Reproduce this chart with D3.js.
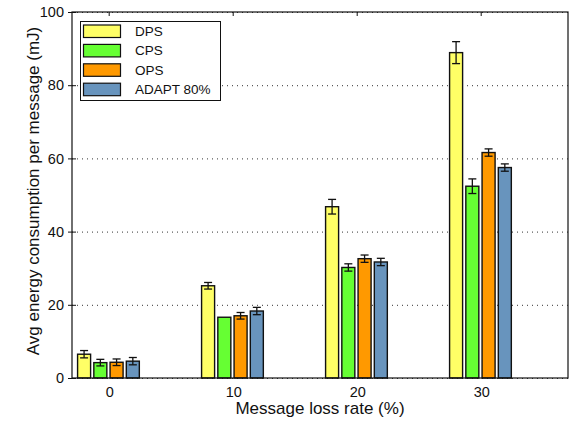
<!DOCTYPE html>
<html>
<head>
<meta charset="utf-8">
<script src="https://cdn.jsdelivr.net/npm/d3@7"></script>
<style>
  html, body { margin: 0; padding: 0; background: #fff; }
  svg { display: block; font-family: "Liberation Sans", Arial, sans-serif; }
</style>
</head>
<body>
<svg id="chart" width="570" height="422"></svg>
<script>
// Message loss rates (%) on the x axis
const lossRates = [0, 10, 20, 30];
// Protocols compared
const seriesNames = ["DPS", "CPS", "OPS", "ADAPT 80%"];
const seriesColors = ["#ffff66", "#66ff33", "#ff9900", "#6894bd"];
// Mean energy per message (mJ), one array per protocol
const dpsValues   = [6.5, 25.2, 46.8, 88.9];
const cpsValues   = [4.2, 16.6, 30.2, 52.4];
const opsValues   = [4.3, 17.0, 32.6, 61.6];
const adaptValues = [4.6, 18.3, 31.7, 57.5];
// Error half-widths (mJ)
const dpsErr   = [1.0, 0.9, 2.0, 3.0];
const cpsErr   = [0.9, 0.0, 1.0, 2.0];
const opsErr   = [0.9, 0.9, 1.0, 1.0];
const adaptErr = [1.0, 1.0, 1.0, 1.0];
// Axis ticks
const yTicks = [0, 20, 40, 60, 80, 100];
const xTicks = [0, 10, 20, 30];

const values = [dpsValues, cpsValues, opsValues, adaptValues];
const errors = [dpsErr, cpsErr, opsErr, adaptErr];

const svg = d3.select("#chart");
const m = { left: 72, right: 568, top: 12, bottom: 378 };

const x = d3.scaleLinear().domain([-3, 37]).range([m.left, m.right]);
const y = d3.scaleLinear().domain([0, 100]).range([m.bottom, m.top]);

// bar layout in x-axis units around each loss rate
const barStart = -2.55, barStep = 1.31, barWidth = 1.05;

// dotted horizontal grid
svg.append("g").selectAll("line").data(yTicks).join("line")
  .attr("x1", m.left).attr("x2", m.right)
  .attr("y1", d => y(d) + 0.5).attr("y2", d => y(d) + 0.5)
  .attr("stroke", "#333").attr("stroke-width", 1)
  .attr("stroke-dasharray", "1,4");

// bars
const rows = [];
lossRates.forEach((r, gi) => {
  seriesNames.forEach((s, si) => {
    rows.push({ rate: r, si, v: values[si][gi], e: errors[si][gi] });
  });
});

svg.append("g").selectAll("rect").data(rows).join("rect")
  .attr("x", d => x(d.rate + barStart + d.si * barStep))
  .attr("width", d => x(barWidth) - x(0))
  .attr("y", d => y(d.v))
  .attr("height", d => y(0) - y(d.v))
  .attr("fill", d => seriesColors[d.si])
  .attr("stroke", "#111").attr("stroke-width", 1.4);

// error bars
const eg = svg.append("g").attr("stroke", "#111").attr("stroke-width", 1.3);
rows.filter(d => d.e > 0).forEach(d => {
  const cx = x(d.rate + barStart + d.si * barStep + barWidth / 2);
  eg.append("line").attr("x1", cx).attr("x2", cx)
    .attr("y1", y(d.v + d.e)).attr("y2", y(d.v - d.e));
  [d.v + d.e, d.v - d.e].forEach(v => {
    eg.append("line").attr("x1", cx - 4).attr("x2", cx + 4)
      .attr("y1", y(v)).attr("y2", y(v));
  });
});

// plot frame
svg.append("rect")
  .attr("x", m.left).attr("y", m.top)
  .attr("width", m.right - m.left).attr("height", m.bottom - m.top)
  .attr("fill", "none").attr("stroke", "#111").attr("stroke-width", 1.2);

// left axis
const yAxis = d3.axisLeft(y).tickValues(yTicks).tickSize(4).tickPadding(4);
const ya = svg.append("g").attr("transform", `translate(${m.left},0)`).call(yAxis);
ya.select(".domain").remove();
ya.selectAll("line").attr("stroke", "#111").attr("x2", -4).attr("x1", 4);
ya.selectAll("text").attr("font-size", 14.5).attr("fill", "#111")
  .attr("font-family", "Liberation Sans, Arial, sans-serif");

// top ticks pointing inward
svg.append("g").selectAll("line").data(xTicks).join("line")
  .attr("x1", d => x(d)).attr("x2", d => x(d))
  .attr("y1", m.top).attr("y2", m.top + 4)
  .attr("stroke", "#111").attr("stroke-width", 1);

// bottom tick labels
const xAxis = d3.axisBottom(x).tickValues(xTicks).tickSize(0).tickPadding(9);
const xa = svg.append("g").attr("transform", `translate(0,${m.bottom})`).call(xAxis);
xa.select(".domain").remove();
xa.selectAll("text").attr("font-size", 14.5).attr("fill", "#111")
  .attr("font-family", "Liberation Sans, Arial, sans-serif");

// axis titles
svg.append("text")
  .attr("x", 320).attr("y", 414)
  .attr("text-anchor", "middle").attr("font-size", 17).attr("fill", "#111")
  .text("Message loss rate (%)");
svg.append("text")
  .attr("transform", "translate(39,191) rotate(-90)")
  .attr("text-anchor", "middle").attr("font-size", 17).attr("fill", "#111")
  .text("Avg energy consumption per message (mJ)");

// legend
const lg = svg.append("g");
lg.append("rect").attr("x", 80.5).attr("y", 21.5).attr("width", 140).attr("height", 79)
  .attr("fill", "#fff").attr("stroke", "#111").attr("stroke-width", 1);
seriesNames.forEach((s, i) => {
  const yy = 25 + i * 19.4;
  lg.append("rect").attr("x", 83.5).attr("y", yy).attr("width", 37).attr("height", 12.5)
    .attr("fill", seriesColors[i]).attr("stroke", "#111").attr("stroke-width", 1.2);
  lg.append("text").attr("x", 135).attr("y", yy + 11)
    .attr("font-size", 13.5).attr("fill", "#111").text(s);
});
</script>
</body>
</html>
